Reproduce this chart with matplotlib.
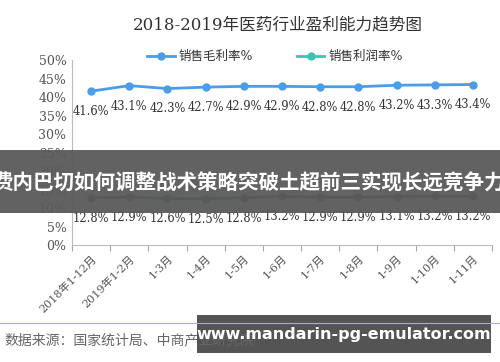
import matplotlib
matplotlib.use("Agg")
import matplotlib.pyplot as plt
from matplotlib.lines import Line2D
from matplotlib.patches import Rectangle

# data
months = ["2018年1-12月", "2019年1-2月", "1-3月", "1-4月", "1-5月", "1-6月",
          "1-7月", "1-8月", "1-9月", "1-10月", "1-11月"]
gross_margin = [41.6, 43.1, 42.3, 42.7, 42.9, 42.9, 42.8, 42.8, 43.2, 43.3, 43.4]
profit_margin = [12.8, 12.9, 12.6, 12.5, 12.8, 13.2, 12.9, 12.9, 13.1, 13.2, 13.2]
series_names = ["销售毛利率%", "销售利润率%"]
yticks = [0, 5, 10, 15, 20, 25, 30, 35, 40, 45, 50]

title = "2018-2019年医药行业盈利能力趋势图"
source = "数据来源：国家统计局、中商产业研究院"
banner = "费内巴切如何调整战术策略突破土超前三实现长远竞争力"
site = "www.mandarin-pg-emulator.com"

fonts = ["DejaVu Serif", "Noto Sans CJK SC"]
plt.rcParams["font.family"] = fonts

blue = "#4a9de6"
teal = "#1e5e55"
teal_legend = "#3cc4b0"
grey = "#555555"

fig = plt.figure(figsize=(5, 3.62), dpi=100)
ax = fig.add_axes([0.144, 0.323, 0.84, 0.511])

x = range(len(months))
ax.plot(x, gross_margin, color=blue, lw=2, marker="o", ms=5)
ax.plot(x, profit_margin, color=teal, lw=2, marker="o", ms=5)

for i in x:
    ax.annotate(f"{gross_margin[i]:.1f}%", (i, gross_margin[i]), xytext=(0, -10),
                textcoords="offset points", ha="center", va="top",
                fontsize=8.3, color="#333333")
    ax.annotate(f"{profit_margin[i]:.1f}%", (i, profit_margin[i]), xytext=(0, -10),
                textcoords="offset points", ha="center", va="top",
                fontsize=8.3, color="#333333")

ax.set_xlim(-0.5, len(months) - 0.5)
ax.set_ylim(0, 50)
ax.set_yticks(yticks)
ax.set_yticklabels([f"{v}%" for v in yticks], fontsize=9, color=grey)
ax.set_xticks([i + 0.5 for i in range(-1, len(months))], minor=False)
ax.set_xticklabels([])
ax.set_xticks(list(x), minor=True)
ax.set_xticklabels(months, minor=True, rotation=45, ha="right",
                   rotation_mode="anchor", fontsize=8, color=grey)
ax.tick_params(axis="x", which="minor", length=0, pad=6)
ax.tick_params(axis="x", which="major", length=4, color="#aaaaaa")
ax.tick_params(axis="y", length=0, pad=4)
for side in ["top", "right"]:
    ax.spines[side].set_visible(False)
for side in ["left", "bottom"]:
    ax.spines[side].set_color("#bbbbbb")

handles = [Line2D([], [], color=blue, lw=2, marker="o", ms=5),
           Line2D([], [], color=teal_legend, lw=2, marker="o", ms=5)]
fig.legend(handles, series_names, loc="center", bbox_to_anchor=(0.55, 0.843),
           ncol=2, frameon=False, fontsize=9, columnspacing=3.5,
           handlelength=2.2, handletextpad=0.3, labelcolor="#333333")

fig.text(0.555, 0.93, title, ha="center", va="center", fontsize=12, color="#333333")

# footer
fig.add_artist(Line2D([0, 1], [0.108, 0.108], color="#9fb3cc", lw=0.8))
fig.text(0.008, 0.06, source, ha="left", va="center", fontsize=10, color="#666666")

# overlay banners
fig.add_artist(Rectangle((0, 0.412), 1, 0.174, transform=fig.transFigure,
                         facecolor="#5a5a5a", edgecolor="none", alpha=0.95))
fig.text(0.497, 0.495, banner, ha="center", va="center", fontsize=14.8,
         fontweight="bold", color="white", family=["Noto Sans CJK SC"])
fig.add_artist(Rectangle((0.394, 0.025), 0.588, 0.105, transform=fig.transFigure,
                         facecolor="#545454", edgecolor="none"))
fig.text(0.688, 0.077, site, ha="center", va="center", fontsize=11.5,
         fontweight="bold", color="white", family=["DejaVu Sans"])

fig.savefig("out.png", dpi=100)
